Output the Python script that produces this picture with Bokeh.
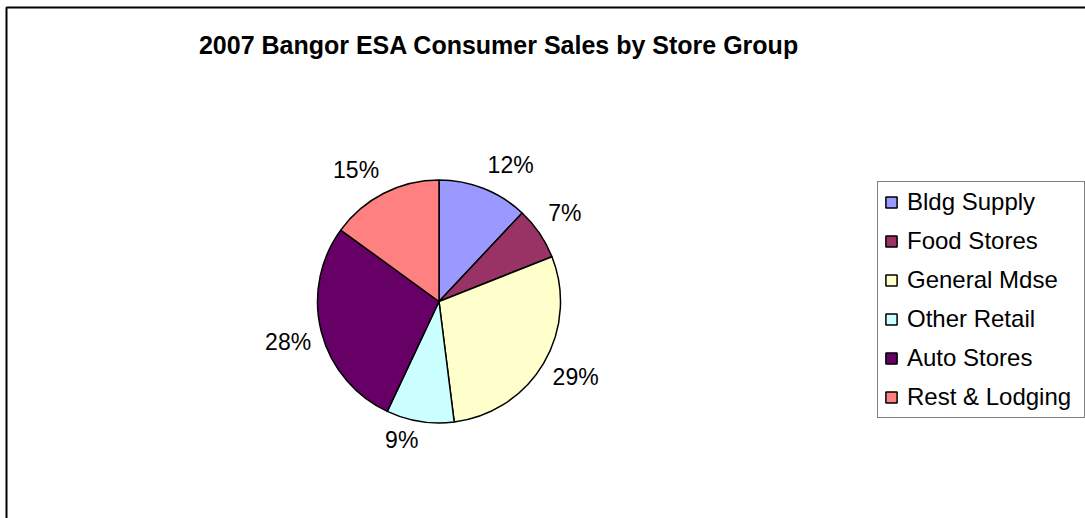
import numpy as np
from bokeh.plotting import figure
from bokeh.models import ColumnDataSource, Range1d
from bokeh.core.properties import value
from bokeh.embed import file_html
from bokeh.resources import INLINE

# ---- data ----
title_text = "2007 Bangor ESA Consumer Sales by Store Group"
categories = ["Bldg Supply", "Food Stores", "General Mdse", "Other Retail", "Auto Stores", "Rest & Lodging"]
shares = [12, 7, 29, 9, 28, 15]
colors = ["#9999FF", "#993366", "#FFFFCC", "#CCFFFF", "#660066", "#FF8080"]

# ---- layout ----
W, H = 1085, 518
cx, cy = 438.5, H - 301.0
R = 121.5
FONT = "Liberation Sans"
LABEL_PX = 23

vals = np.array(shares, dtype=float)
frac = vals / vals.sum()
cum = np.concatenate([[0.0], np.cumsum(frac)])
start = np.pi / 2 - 2 * np.pi * cum[:-1]
end = np.pi / 2 - 2 * np.pi * cum[1:]
mid = (start + end) / 2
labels = [f"{v:.0f}%" for v in frac * 100]

# outside-end labels: nearest box corner sits on a circle around the pie
r0 = 132.0
half_w = np.array([((len(t) - 1) * 0.556 + 0.889) * LABEL_PX / 2 for t in labels])
half_h = 11.0
ux, uy = np.cos(mid), np.sin(mid)
lx = cx + r0 * ux + np.sign(ux) * half_w
ly = cy + r0 * uy + np.sign(uy) * half_h

src = ColumnDataSource(dict(cat=categories, start=start, end=end, color=colors))
lsrc = ColumnDataSource(dict(x=lx, y=ly, text=labels))

p = figure(width=W, height=H, output_backend="svg", toolbar_location=None,
           x_range=Range1d(0, W), y_range=Range1d(0, H),
           x_axis_location=None, y_axis_location=None, min_border=0,
           outline_line_color=None, background_fill_color="white",
           border_fill_color="white")
p.grid.visible = False

# chart border
p.line(x=[6, 6, W + 20], y=[-20, H - 7, H - 7], line_color="black", line_width=2)

# title
p.text(x=[498.5], y=[H - 44.5], text=[title_text], text_font=value(FONT),
       text_font_size="25px", text_font_style="bold", text_align="center",
       text_baseline="middle", text_color="black")

# pie
p.wedge(x=cx, y=cy, radius=R, radius_units="screen", start_angle="start", end_angle="end",
        direction="clock", fill_color="color", line_color="black", line_width=1.5,
        legend_field="cat", source=src)

# percent labels
p.text(x="x", y="y", text="text", source=lsrc, text_font=value(FONT),
       text_font_size=f"{LABEL_PX}px", y_offset=-3,
       text_align="center", text_baseline="middle", text_color="black")

lg = p.legend[0]
lg.location = (877, 100)
lg.label_text_font = FONT
lg.label_text_font_size = "24px"
lg.label_text_color = "black"
lg.glyph_width = 14
lg.glyph_height = 14
lg.label_standoff = 9
lg.padding = 6
lg.spacing = 11
lg.margin = 0
lg.label_width = 171
lg.border_line_color = "black"
lg.border_line_width = 1
lg.background_fill_color = "white"
lg.background_fill_alpha = 1.0

open("out.html", "w").write(file_html(p, INLINE))
